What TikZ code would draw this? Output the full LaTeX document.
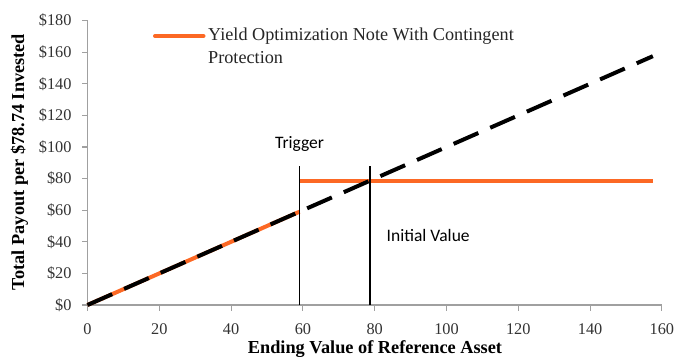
\documentclass[tikz,border=0pt]{standalone}
\usepackage{fontspec}
\setmainfont{Liberation Serif}
\newfontfamily\calib{Carlito}
\definecolor{payorange}{RGB}{252,104,36}
\definecolor{axisgray}{RGB}{160,160,160}
\tikzset{
  axisline/.style={draw=axisgray, line width=1.3pt},
  tickmark/.style={draw=axisgray, line width=1.1pt},
  ticklabel/.style={font=\fontsize{16.3}{16}\selectfont, text=black!80, inner sep=0pt},
  axtitle/.style={font=\fontsize{18.3}{19}\selectfont\bfseries, inner sep=0pt},
  payline/.style={draw=payorange, line width=4pt},
  refline/.style={draw=black, line width=4pt, dash pattern=on 27pt off 13pt},
  markline/.style={draw=black, line width=1.8pt},
  callout/.style={font=\calib\fontsize{17.5}{18}\selectfont, inner sep=0pt},
  legtext/.style={font=\fontsize{18.2}{22.5}\selectfont, inner sep=0pt, align=left, anchor=north west, text=black!85}
}
\begin{document}
\begin{tikzpicture}[x=1pt,y=1pt]
\useasboundingbox (0,0) rectangle (680,360);
\fill[white] (0,0) rectangle (680,360);
\begin{scope}[shift={(87.5,55)}, x=3.59pt, y=1.58pt]
  % axes
  \coordinate (O) at (0,0);
  \coordinate (xend) at (160,0);
  \coordinate (yend) at (0,180);
  \draw[axisline] (yend) -- (O) -- (xend);
  \foreach \v in {0,20,...,160} {
    \draw[tickmark] (\v,0) -- ++(0,-3.6);
    \node[ticklabel, anchor=north] (xt\v) at (\v,-11.5) {\v};
  }
  \foreach \v in {0,20,...,180} {
    \draw[tickmark] (0,\v) -- ++(-1.5,0);
    \node[ticklabel, anchor=east] (yt\v) at (-4.4,\v) {\$\v};
  }
  % series
  \coordinate (trigLow) at (59.05,59.05);
  \coordinate (trigFlat) at (59.05,78.74);
  \coordinate (flatEnd) at (157.48,78.74);
  \coordinate (refEnd) at (157.48,157.48);
  \coordinate (trigBot) at (59.05,0);
  \coordinate (trigTop) at (59.05,88);
  \coordinate (initBot) at (78.74,0);
  \coordinate (initTop) at (78.74,88);
  \draw[payline] (O) -- (trigLow);
  \draw[payline] (trigFlat) -- (flatEnd);
  \draw[markline] (trigBot) -- (trigTop);
  \draw[markline] (initBot) -- (initTop);
  \draw[refline] (O) -- (refEnd);
\end{scope}
% labels
\node[callout] (trig) at (299.5,216.5) {Trigger};
\node[callout, anchor=west] (init) at (386.5,124.5) {Initial Value};
% legend
\coordinate (legA) at (155,324);
\coordinate (legB) at (203.5,324);
\draw[payline, line cap=round] (legA) -- (legB);
\node[legtext] (legt) at (208,332) {Yield Optimization Note With Contingent\\Protection};
% axis titles
\node[axtitle] (xtitle) at (375,11) {Ending Value of Reference Asset};
\node[axtitle, rotate=90] (ytitle) at (19.5,198) {Total Payout per \$78.74 Invested};
\end{tikzpicture}
\end{document}
